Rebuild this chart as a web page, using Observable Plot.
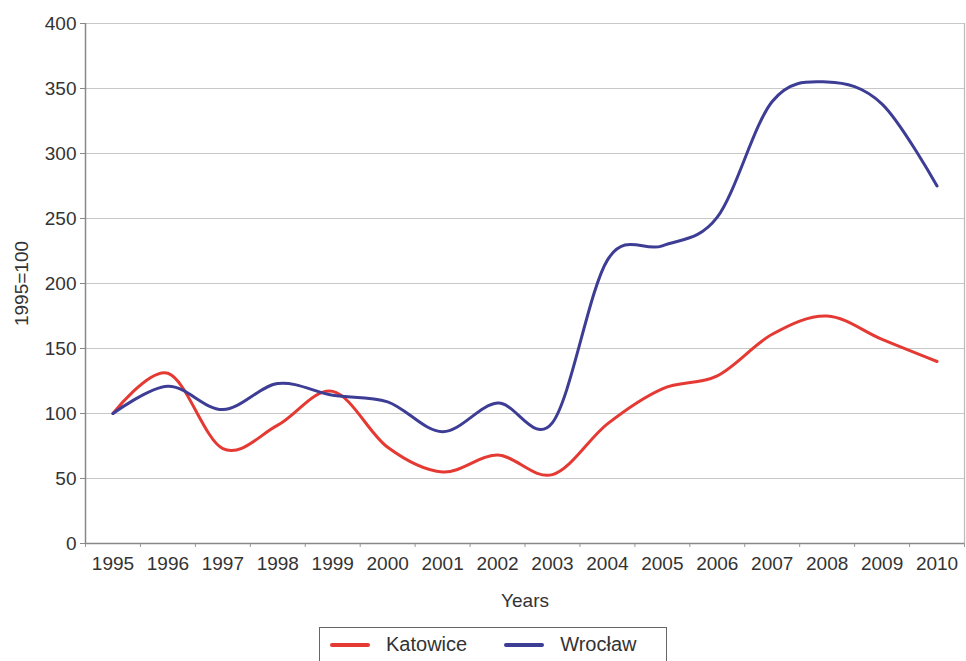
<!DOCTYPE html>
<html>
<head>
<meta charset="utf-8">
<script src="https://cdn.jsdelivr.net/npm/d3@7"></script>
<script src="https://cdn.jsdelivr.net/npm/@observablehq/plot@0.6"></script>
<style>
  html, body { margin: 0; padding: 0; background: #fff; overflow: hidden; }
  body { font-family: "Liberation Sans", Arial, sans-serif; color: #333; }
  #legend {
    position: absolute; left: 319px; top: 627px; width: 348px; height: 44px;
    border: 1.5px solid #666; box-sizing: border-box; display: flex; align-items: flex-start;
    padding-top: 5px; padding-left: 10px; font-size: 20px; color: #333;
  }
  .item { display: flex; align-items: center; margin-right: 37px; }
  .swatch { width: 40px; height: 4px; border-radius: 2px; margin-right: 16px; }
</style>
</head>
<body>
<div id="chart"></div>
<div id="legend"></div>
<script>
const years = [1995,1996,1997,1998,1999,2000,2001,2002,2003,2004,2005,2006,2007,2008,2009,2010];
const katowice = [100,131,73,91,117,74,55,68,53,92,119,129,161,175,157,140];
const wroclaw  = [100,121,103,123,114,109,86,108,93,218,229,251,340,355,338,275];
const seriesNames = ["Katowice", "Wrocław"];
const seriesColors = ["#e53a33", "#3d3d95"];
const yTicks = [0,50,100,150,200,250,300,350,400];

const data = [];
years.forEach((yr, i) => {
  data.push({year: yr, value: katowice[i], city: seriesNames[0]});
  data.push({year: yr, value: wroclaw[i], city: seriesNames[1]});
});

const boundaries = d3.range(years.length + 1).map(i => years[0] - 0.5 + i);

const chart = Plot.plot({
  width: 966,
  height: 622,
  marginLeft: 85,
  marginRight: 2,
  marginTop: 23,
  marginBottom: 79,
  style: {fontFamily: "Liberation Sans, Arial, sans-serif", fontSize: "19px", color: "#333", background: "#fff"},
  x: {domain: [years[0] - 0.5, years[years.length - 1] + 0.5]},
  y: {domain: [0, 400]},
  color: {domain: seriesNames, range: seriesColors},
  marks: [
    Plot.gridY(yTicks, {stroke: "#c8c8c8", strokeOpacity: 1, strokeWidth: 1.2}),
    Plot.ruleX([years[years.length - 1] + 0.5], {stroke: "#bbb", strokeWidth: 1.2}),
    Plot.axisY({ticks: yTicks, tickSize: 5, tickPadding: 4, stroke: "#888", fontSize: 19,
      label: "1995=100", labelAnchor: "center", labelArrow: "none", labelOffset: 71, fontSize: 19}),
    Plot.axisX({ticks: years, tickSize: 0, tickPadding: 13, tickFormat: d => String(d), fontSize: 19,
      label: "Years", labelAnchor: "center", labelArrow: "none", labelOffset: 63}),
    Plot.axisX({ticks: boundaries, tickSize: 4, tickFormat: () => "", stroke: "#999", label: null}),
    Plot.ruleY([0], {stroke: "#888", strokeWidth: 1.5}),
    Plot.ruleX([years[0] - 0.5], {stroke: "#888", strokeWidth: 1.5}),
    Plot.line(data, {x: "year", y: "value", stroke: "city", z: "city", strokeWidth: 3, curve: "cardinal"})
  ]
});
document.getElementById("chart").appendChild(chart);

const legend = document.getElementById("legend");
seriesNames.forEach((name, i) => {
  const item = document.createElement("div");
  item.className = "item";
  const sw = document.createElement("div");
  sw.className = "swatch";
  sw.style.background = seriesColors[i];
  const label = document.createElement("span");
  label.textContent = name;
  item.appendChild(sw);
  item.appendChild(label);
  legend.appendChild(item);
});
</script>
</body>
</html>
